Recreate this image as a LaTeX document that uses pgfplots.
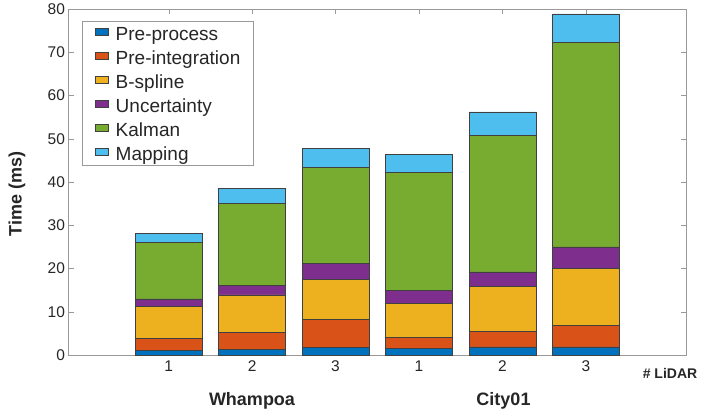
\documentclass[border=0pt]{standalone}
\usepackage{pgfplots}
\pgfplotsset{compat=1.18}
\usepackage{pgfplotstable}
\usepackage{fontspec}
\setmainfont{Liberation Sans}
\definecolor{c1}{RGB}{0,114,189}
\definecolor{c2}{RGB}{217,83,25}
\definecolor{c3}{RGB}{237,177,32}
\definecolor{c4}{RGB}{126,47,142}
\definecolor{c5}{RGB}{119,172,48}
\definecolor{c6}{RGB}{77,190,238}
\definecolor{txt}{RGB}{38,38,38}
\pgfplotstableread{
x pre preint bspline unc kal map
1 1.10 2.80 7.40 1.70 13.10 2.00
2 1.30 3.90 8.70 2.20 18.90 3.50
3 1.85 6.45 9.25 3.65 22.20 4.30
4 1.55 2.55 7.85 3.00 27.30 4.15
5 1.90 3.60 10.40 3.30 31.50 5.50
6 1.90 5.00 13.10 5.00 47.20 6.70
}\datatable
\begin{document}
\begin{tikzpicture}
\begin{axis}[
  at={(0,0)}, anchor=south west,
  scale only axis, width=617.5pt, height=346pt,
  xmin=-0.2, xmax=7.2, ymin=0, ymax=80,
  ybar stacked, bar width=0.8,
  xtick={1,2,3,4,5,6}, xticklabels={1,2,3,1,2,3},
  ytick={0,10,20,30,40,50,60,70,80},
  tick align=inside, major tick length=5pt,
  axis line style={black!40},
  tick style={black!40},
  /pgf/number format/assume math mode=true,
  every tick label/.append style={font=\fontsize{15.5}{18}\selectfont, text=txt},
  xticklabel style={yshift=-2pt},
  every axis plot/.append style={draw=black!75, line width=0.5pt},
  legend cell align=left,
  legend style={at={(rel axis cs:0.0219,0.965)}, anchor=north west,
    draw=black!40, inner xsep=13pt, inner ysep=0pt, column sep=7pt, row sep=0pt,
    font=\fontsize{19}{21}\selectfont, text=txt,
    nodes={inner sep=0pt, text height=19pt, text depth=5pt}},
  legend image code/.code={\draw[#1, line width=0.5pt] (0pt,-1.5pt) rectangle (13pt,5.5pt);},
]
\addplot[fill=c1] table[x=x, y=pre] {\datatable};
\addplot[fill=c2] table[x=x, y=preint] {\datatable};
\addplot[fill=c3] table[x=x, y=bspline] {\datatable};
\addplot[fill=c4] table[x=x, y=unc] {\datatable};
\addplot[fill=c5] table[x=x, y=kal] {\datatable};
\addplot[fill=c6] table[x=x, y=map] {\datatable};
\legend{Pre-process, Pre-integration, B-spline, Uncertainty, Kalman, Mapping}
\end{axis}
\node[rotate=90, text=txt, font=\bfseries\fontsize{18}{20}\selectfont] at (-51.5pt,161pt) {Time (ms)};
\node[anchor=base, text=txt, font=\bfseries\fontsize{18}{20}\selectfont] at (183.5pt,-50pt) {Whampoa};
\node[anchor=base, text=txt, font=\bfseries\fontsize{18}{20}\selectfont] at (435pt,-50pt) {City01};
\node[anchor=base, text=txt, font=\bfseries\fontsize{14}{16}\selectfont] at (601.5pt,-23.3pt) {\# LiDAR};
\pgfresetboundingbox
\path[use as bounding box] (-68.5pt,-58pt) rectangle (637.5pt,355pt);
\end{tikzpicture}
\end{document}
